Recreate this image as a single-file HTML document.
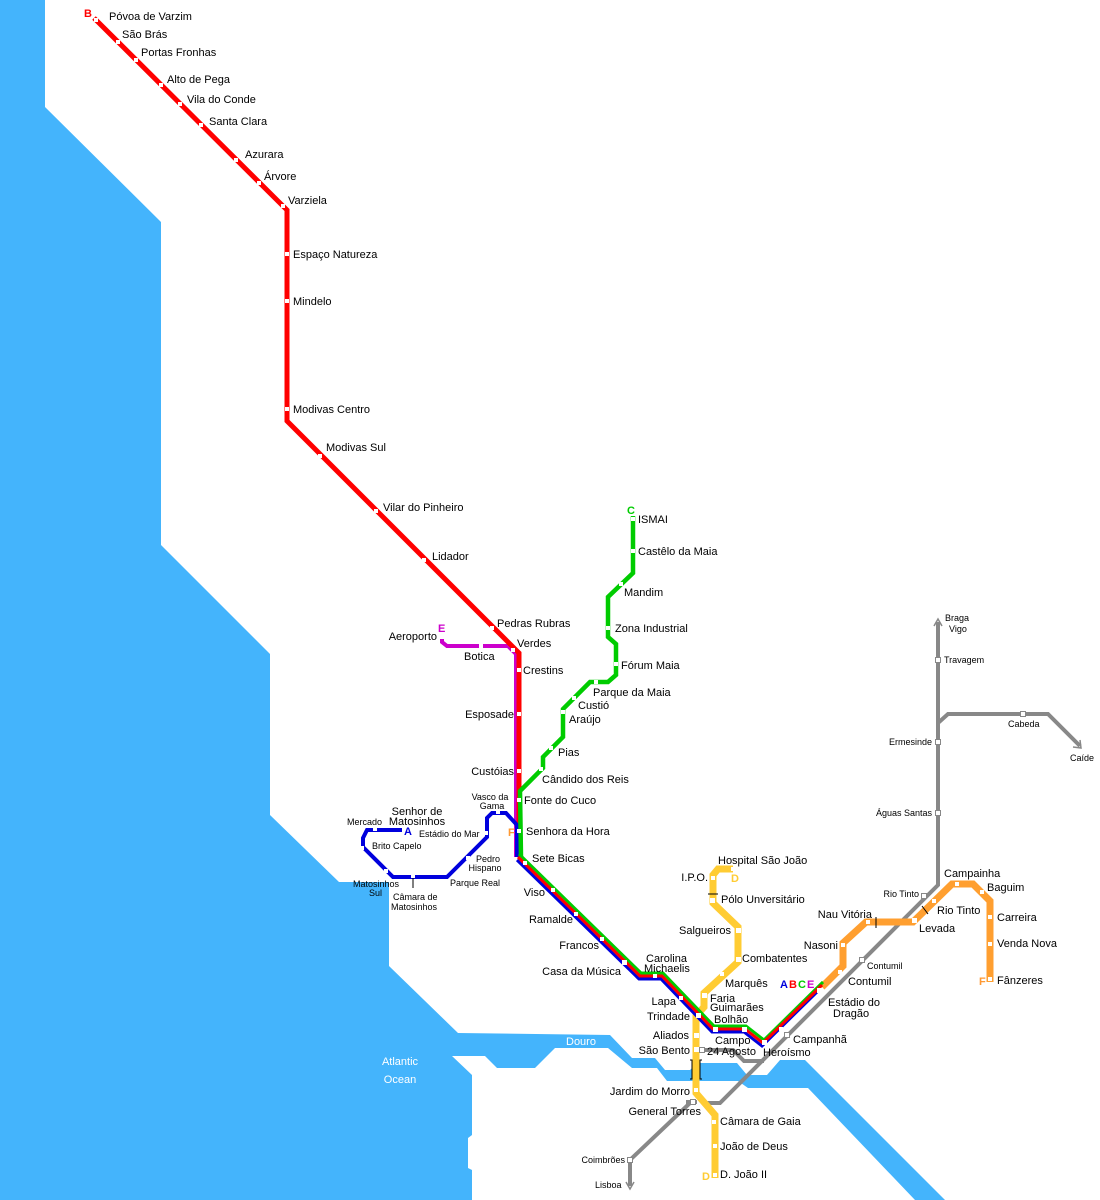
<!DOCTYPE html>
<html><head><meta charset="utf-8"><style>
html,body{margin:0;padding:0;background:#fff;}
svg{display:block;}
text{font-family:"Liberation Sans",Arial,sans-serif;font-size:11px;fill:#000;}
.s{font-size:9px;}
.w{fill:#fff;}
</style></head><body>
<svg width="1100" height="1200" viewBox="0 0 1100 1200" xmlns="http://www.w3.org/2000/svg">
<polygon fill="#44b4fc" points="0,0 45,0 45,107 161,222 161,545 270,654 270,815 339,882 389,882 389,966 458,1033 610,1035 632,1058 655,1058 665,1070 690,1070 697,1063 737,1063 747,1075 767,1075 780,1060 805,1060 945,1200 915,1200 808,1088 748,1088 738,1081 690,1081 667,1081 657,1068 632,1068 608,1048 555,1048 535,1068 497,1068 485,1056 452,1056 472,1075 472,1135 468,1138 468,1168 472,1170 472,1200 0,1200"/>
<text class="w" x="566" y="1045">Douro</text>
<text class="w" x="400" y="1065" text-anchor="middle">Atlantic</text>
<text class="w" x="400" y="1083" text-anchor="middle">Ocean</text>

<g fill="none" stroke-linejoin="miter" stroke-linecap="butt">
<g stroke="#888" stroke-width="4">
<polyline points="938,622 938,885 720,1103 707,1103"/>
<polyline points="938,723 948,714 1048,714 1080,746"/>
<polyline points="700,1050 733,1050 744,1061 764,1061"/>
<polyline points="686,1102 697,1102"/>
<polyline points="690,1103 630,1160 630,1186"/>
</g>
<g stroke="#888" stroke-width="1.5">
<polyline points="934,626 938,619 942,626"/>
<polyline points="1073,747 1081,748 1080,740"/>
<polyline points="626,1182 630,1189 634,1182"/>
</g>
<polyline stroke="#ff9f30" stroke-width="7" points="822,987 843,966 843,943 866,922 913,922 952,884 973,884 990,901 990,982"/>
<polyline stroke="#ffcc33" stroke-width="7" points="733,869 718,869 713,875 713,903 738,927 738,962 704,993 704,1007 696,1016 696,1093 715,1115 715,1178"/>
<polyline stroke="#cc00cc" stroke-width="4" points="442,634 442,642 447,646 508,646 516,654 516,857"/>
<polyline stroke="#ff0000" stroke-width="5" points="94,18 287,210 287,421 519,653 519,857"/>
<polyline stroke="#0000dd" stroke-width="4" points="402,830 367,830 363,838 363,847 393,877 447,877 487,837 487,818 492,813 506,813 517,825 517,857"/>
<polyline stroke="#00cc00" stroke-width="4.5" points="633,516 633,573 608,597 608,637 616,644 616,675 608,682 590,682 563,709 563,737 543,757 543,768 520,791 521,857"/>
<polyline stroke="#00cc00" stroke-width="3" transform="translate(1,-3)" points="518,857 640,976 662,976 713,1029 745,1029 763,1043 822,985"/>
<polyline stroke="#0000dd" stroke-width="3" transform="translate(-1,3)" points="518,857 640,976 662,976 713,1029 745,1029 763,1043 822,985"/>
<polyline stroke="#ff0000" stroke-width="3" points="518,857 640,976 662,976 713,1029 745,1029 763,1043 822,985"/>
<g stroke="#000" stroke-width="1">
<line x1="413" y1="877" x2="413" y2="888"/>
<line x1="876" y1="917" x2="876" y2="928"/>
<line x1="708" y1="894" x2="718" y2="894"/>
<polyline points="690,1060 692,1060 692,1079 690,1079"/>
<polyline points="702,1060 700,1060 700,1079 702,1079"/>
<line x1="922" y1="906" x2="928" y2="914"/>
</g>
</g>
<g fill="#fff">
<rect x="94" y="18" width="4" height="4"/><rect x="116" y="40" width="4" height="4"/><rect x="134" y="58" width="4" height="4"/><rect x="159" y="83" width="4" height="4"/><rect x="178" y="102" width="4" height="4"/><rect x="199" y="123" width="4" height="4"/><rect x="234" y="158" width="4" height="4"/><rect x="257" y="181" width="4" height="4"/><rect x="281" y="204" width="4" height="4"/>
<rect x="285" y="252" width="4" height="4"/><rect x="285" y="299" width="4" height="4"/><rect x="285" y="407" width="4" height="4"/><rect x="318" y="454" width="4" height="4"/><rect x="374" y="509" width="4" height="4"/><rect x="422" y="558" width="4" height="4"/><rect x="490" y="626" width="4" height="4"/><rect x="511" y="648" width="4" height="4"/>
<rect x="517" y="668" width="4" height="4"/><rect x="517" y="712" width="4" height="4"/><rect x="517" y="769" width="4" height="4"/><rect x="517" y="798" width="4" height="4"/><rect x="517" y="829" width="4" height="4"/><rect x="523" y="861" width="4" height="4"/>
<rect x="479" y="644" width="4" height="4"/><rect x="440" y="634" width="5" height="5"/>
<rect x="631" y="517" width="4" height="4"/><rect x="631" y="549" width="4" height="4"/><rect x="619" y="582" width="4" height="4"/><rect x="606" y="626" width="4" height="4"/><rect x="614" y="662" width="4" height="4"/><rect x="594" y="680" width="4" height="4"/><rect x="572" y="696" width="4" height="4"/><rect x="561" y="710" width="4" height="4"/><rect x="549" y="746" width="4" height="4"/><rect x="539" y="767" width="4" height="4"/>
<rect x="373" y="828" width="4" height="3"/><rect x="361" y="846" width="3" height="4"/><rect x="384" y="869" width="4" height="4"/><rect x="411" y="875" width="4" height="3"/><rect x="466" y="856" width="4" height="4"/><rect x="485" y="831" width="3" height="4"/><rect x="496" y="811" width="4" height="3"/>
<rect x="551" y="888" width="4" height="4"/><rect x="574" y="912" width="4" height="4"/><rect x="600" y="937" width="4" height="4"/><rect x="622" y="960" width="5" height="5"/><rect x="653" y="974" width="4" height="4"/><rect x="679" y="996" width="4" height="4"/><rect x="696" y="1013" width="5" height="5"/><rect x="713" y="1027" width="5" height="5"/><rect x="742" y="1027" width="5" height="5"/><rect x="762" y="1040" width="5" height="5"/><rect x="779" y="1027" width="4" height="4"/><rect x="817" y="988" width="5" height="5"/>
<rect x="731" y="867" width="4" height="4"/><rect x="711" y="876" width="4" height="4"/><rect x="710" y="898" width="5" height="5"/><rect x="736" y="928" width="5" height="5"/><rect x="736" y="957" width="5" height="5"/><rect x="720" y="972" width="4" height="4"/><rect x="702" y="993" width="5" height="5"/><rect x="694" y="1033" width="5" height="5"/><rect x="694" y="1047" width="5" height="5"/><rect x="694" y="1088" width="4" height="4"/><rect x="712" y="1120" width="4" height="4"/><rect x="713" y="1144" width="4" height="4"/><rect x="713" y="1173" width="4" height="4"/>
<rect x="838" y="970" width="4" height="4"/><rect x="841" y="943" width="4" height="4"/><rect x="866" y="920" width="4" height="4"/><rect x="912" y="918" width="5" height="5"/><rect x="932" y="899" width="4" height="4"/><rect x="955" y="882" width="4" height="4"/><rect x="980" y="890" width="4" height="4"/><rect x="988" y="915" width="4" height="4"/><rect x="988" y="942" width="4" height="4"/><rect x="988" y="977" width="4" height="4"/>
</g>
<g fill="#fff" stroke="#888" stroke-width="1">
<rect x="935.5" y="657.5" width="5" height="5"/><rect x="1020.5" y="711.5" width="5" height="5"/><rect x="935.5" y="739.5" width="5" height="5"/><rect x="935.5" y="810.5" width="5" height="5"/><rect x="921.5" y="893.5" width="5" height="5"/><rect x="859.5" y="957.5" width="5" height="5"/><rect x="784.5" y="1032.5" width="5" height="5"/><rect x="699.5" y="1047.5" width="5" height="5"/><rect x="690.5" y="1099.5" width="5" height="5"/><rect x="627.5" y="1157.5" width="5" height="5"/>
</g>
<g style="font-weight:bold;font-size:11px">
<text x="84" y="17" style="fill:#f00">B</text>
<text x="627" y="514" style="fill:#0c0">C</text>
<text x="438" y="632" style="fill:#c0c">E</text>
<text x="404" y="835" style="fill:#00d">A</text>
<text x="508" y="836" style="fill:#f93">F</text>
<text x="979" y="985" style="fill:#f93">F</text>
<text x="731" y="882" style="fill:#fc3">D</text>
<text x="702" y="1180" style="fill:#fc3">D</text>
<text x="780" y="988" style="fill:#00d">A</text><text x="789" y="988" style="fill:#f00">B</text><text x="798" y="988" style="fill:#0c0">C</text><text x="807" y="988" style="fill:#c0c">E</text>
</g>
<text x="109" y="20">Póvoa de Varzim</text>
<text x="122" y="38">São Brás</text>
<text x="141" y="56">Portas Fronhas</text>
<text x="167" y="83">Alto de Pega</text>
<text x="187" y="103">Vila do Conde</text>
<text x="209" y="125">Santa Clara</text>
<text x="245" y="158">Azurara</text>
<text x="264" y="180">Árvore</text>
<text x="288" y="204">Varziela</text>
<text x="293" y="258">Espaço Natureza</text>
<text x="293" y="305">Mindelo</text>
<text x="293" y="413">Modivas Centro</text>
<text x="326" y="451">Modivas Sul</text>
<text x="383" y="511">Vilar do Pinheiro</text>
<text x="432" y="560">Lidador</text>
<text x="497" y="627">Pedras Rubras</text>
<text x="517" y="647">Verdes</text>
<text x="437" y="640" text-anchor="end">Aeroporto</text>
<text x="464" y="660">Botica</text>
<text x="523" y="674">Crestins</text>
<text x="514" y="718" text-anchor="end">Esposade</text>
<text x="514" y="775" text-anchor="end">Custóias</text>
<text x="524" y="804">Fonte do Cuco</text>
<text x="526" y="835">Senhora da Hora</text>
<text x="532" y="862">Sete Bicas</text>
<text x="545" y="896" text-anchor="end">Viso</text>
<text x="573" y="923" text-anchor="end">Ramalde</text>
<text x="599" y="949" text-anchor="end">Francos</text>
<text x="621" y="975" text-anchor="end">Casa da Música</text>
<text x="646" y="962">Carolina</text>
<text x="644" y="972">Michaelis</text>
<text x="676" y="1005" text-anchor="end">Lapa</text>
<text x="690" y="1020" text-anchor="end">Trindade</text>
<text x="710" y="1002">Faria</text>
<text x="710" y="1011">Guimarães</text>
<text x="714" y="1023">Bolhão</text>
<text x="689" y="1039" text-anchor="end">Aliados</text>
<text x="690" y="1054" text-anchor="end">São Bento</text>
<text x="715" y="1044">Campo</text>
<text x="707" y="1055">24 Agosto</text>
<text x="763" y="1056">Heroísmo</text>
<text x="793" y="1043">Campanhã</text>
<text x="828" y="1006">Estádio do</text>
<text x="833" y="1017">Dragão</text>
<text x="690" y="1095" text-anchor="end">Jardim do Morro</text>
<text x="701" y="1115" text-anchor="end">General Torres</text>
<text x="720" y="1125">Câmara de Gaia</text>
<text x="720" y="1150">João de Deus</text>
<text x="720" y="1178">D. João  II</text>
<text x="718" y="864">Hospital São João</text>
<text x="708" y="881" text-anchor="end">I.P.O.</text>
<text x="721" y="903">Pólo Unversitário</text>
<text x="731" y="934" text-anchor="end">Salgueiros</text>
<text x="742" y="962">Combatentes</text>
<text x="725" y="987">Marquês</text>
<text x="872" y="918" text-anchor="end">Nau Vitória</text>
<text x="838" y="949" text-anchor="end">Nasoni</text>
<text x="848" y="985">Contumil</text>
<text class="s" x="867" y="969">Contumil</text>
<text class="s" x="919" y="897" text-anchor="end">Rio Tinto</text>
<text x="937" y="914">Rio Tinto</text>
<text x="919" y="932">Levada</text>
<text x="944" y="877">Campainha</text>
<text x="987" y="891">Baguim</text>
<text x="997" y="921">Carreira</text>
<text x="997" y="947">Venda Nova</text>
<text x="997" y="984">Fânzeres</text>
<text class="s" x="945" y="621">Braga</text>
<text class="s" x="949" y="632">Vigo</text>
<text class="s" x="944" y="663">Travagem</text>
<text class="s" x="1008" y="727">Cabeda</text>
<text class="s" x="1070" y="761">Caíde</text>
<text class="s" x="932" y="745" text-anchor="end">Ermesinde</text>
<text class="s" x="932" y="816" text-anchor="end">Águas Santas</text>
<text class="s" x="625" y="1163" text-anchor="end">Coimbrões</text>
<text class="s" x="595" y="1188">Lisboa</text>
<text x="638" y="523">ISMAI</text>
<text x="638" y="555">Castêlo da Maia</text>
<text x="624" y="596">Mandim</text>
<text x="615" y="632">Zona Industrial</text>
<text x="621" y="669">Fórum Maia</text>
<text x="593" y="696">Parque da Maia</text>
<text x="578" y="709">Custió</text>
<text x="569" y="723">Araújo</text>
<text x="558" y="756">Pias</text>
<text x="542" y="783">Cândido dos Reis</text>
<text class="s" x="490" y="800" text-anchor="middle">Vasco da</text>
<text class="s" x="492" y="809" text-anchor="middle">Gama</text>
<text x="417" y="815" text-anchor="middle">Senhor de</text>
<text x="417" y="825" text-anchor="middle">Matosinhos</text>
<text class="s" x="347" y="825">Mercado</text>
<text class="s" x="419" y="837">Estádio do Mar</text>
<text class="s" x="372" y="849">Brito  Capelo</text>
<text class="s" x="488" y="862" text-anchor="middle">Pedro</text>
<text class="s" x="485" y="871" text-anchor="middle">Hispano</text>
<text class="s" x="450" y="886">Parque Real</text>
<text class="s" x="353" y="887">Matosinhos</text>
<text class="s" x="369" y="896">Sul</text>
<text class="s" x="393" y="900">Câmara de</text>
<text class="s" x="391" y="910">Matosinhos</text>
</svg>
</body></html>
